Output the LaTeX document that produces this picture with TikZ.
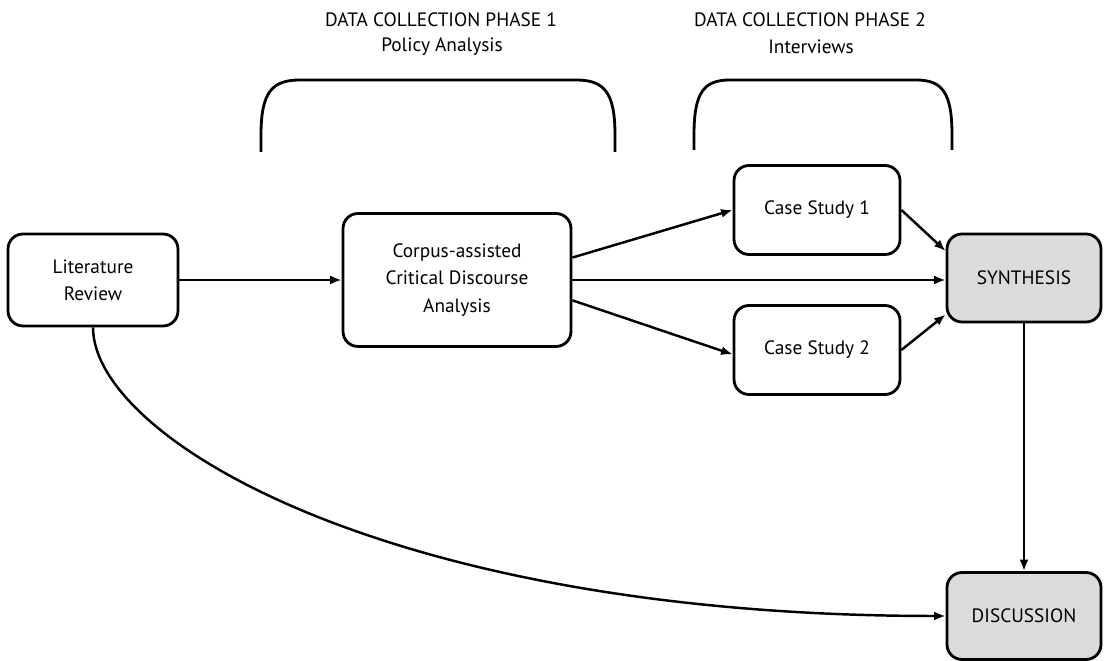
\documentclass[tikz,border=0pt]{standalone}
\usepackage{fontspec}
\setmainfont{PT Sans}
\usepackage{xcolor}
\usetikzlibrary{arrows.meta, positioning}

\begin{document}
\begin{tikzpicture}[
  x=0.02cm, y=-0.02cm,
  box/.style={draw, line width=1.6pt, rounded corners=0.3cm, align=center,
              font=\fontsize{11pt}{15.5pt}\selectfont, inner sep=0pt},
  result/.style={box, fill=black!14},
  phase/.style={align=center, font=\fontsize{11pt}{15.5pt}\selectfont},
  bracket/.style={line width=1.6pt},
  arr/.style={-{Latex[length=2.3mm, width=1.8mm]}, line width=1.4pt}
]
\useasboundingbox (0,0) rectangle (1110,661);

% phase headings
\node[phase] (ph1) at (441,20) {DATA COLLECTION PHASE 1};
\node[phase] (pa)  at (442,47) {Policy Analysis};
\node[phase] (ph2) at (810,20) {DATA COLLECTION PHASE 2};
\node[phase] (iv)  at (811,47) {Interviews};

\draw[bracket] (261,152) -- (261,135) .. controls (261,92) and (272,80) .. (300,80)
  -- (576,80) .. controls (604,80) and (615,92) .. (615,135) -- (615,152);
\draw[bracket] (694,150) -- (694,135) .. controls (694,92) and (704,80) .. (730,80)
  -- (916,80) .. controls (942,80) and (952,92) .. (952,135) -- (952,150);

% boxes
\node[box, minimum width=3.4cm, minimum height=1.84cm] (lit) at (93,280) {Literature\\Review};
\node[box, minimum width=4.56cm, minimum height=2.66cm] (cda) at (457,280)
  {Corpus-assisted\\Critical Discourse\\Analysis};
\node[box, minimum width=3.32cm, minimum height=1.78cm] (cs1) at (817,210) {Case Study 1};
\node[box, minimum width=3.32cm, minimum height=1.78cm] (cs2) at (817,350) {Case Study 2};
\node[result, minimum width=3.08cm, minimum height=1.76cm] (syn) at (1024,278) {SYNTHESIS};
\node[result, minimum width=3.08cm, minimum height=1.74cm] (dis) at (1024,616) {DISCUSSION};

\draw[arr] (lit.east) -- (lit.east -| cda.west);
\draw[arr] (cda.11) -- (cs1.west);
\draw[arr] (cda.east) -- (cda.east -| syn.west);
\draw[arr] (cda.-10) -- (cs2.183);
\draw[arr] (cs1.east) -- (syn.161);
\draw[arr] (cs2.east) -- (syn.205);
\draw[arr] (syn.south) -- (dis.north);
\draw[arr] (lit.south) .. controls +(0,110) and +(-560,0) .. (dis.west);
\end{tikzpicture}
\end{document}
